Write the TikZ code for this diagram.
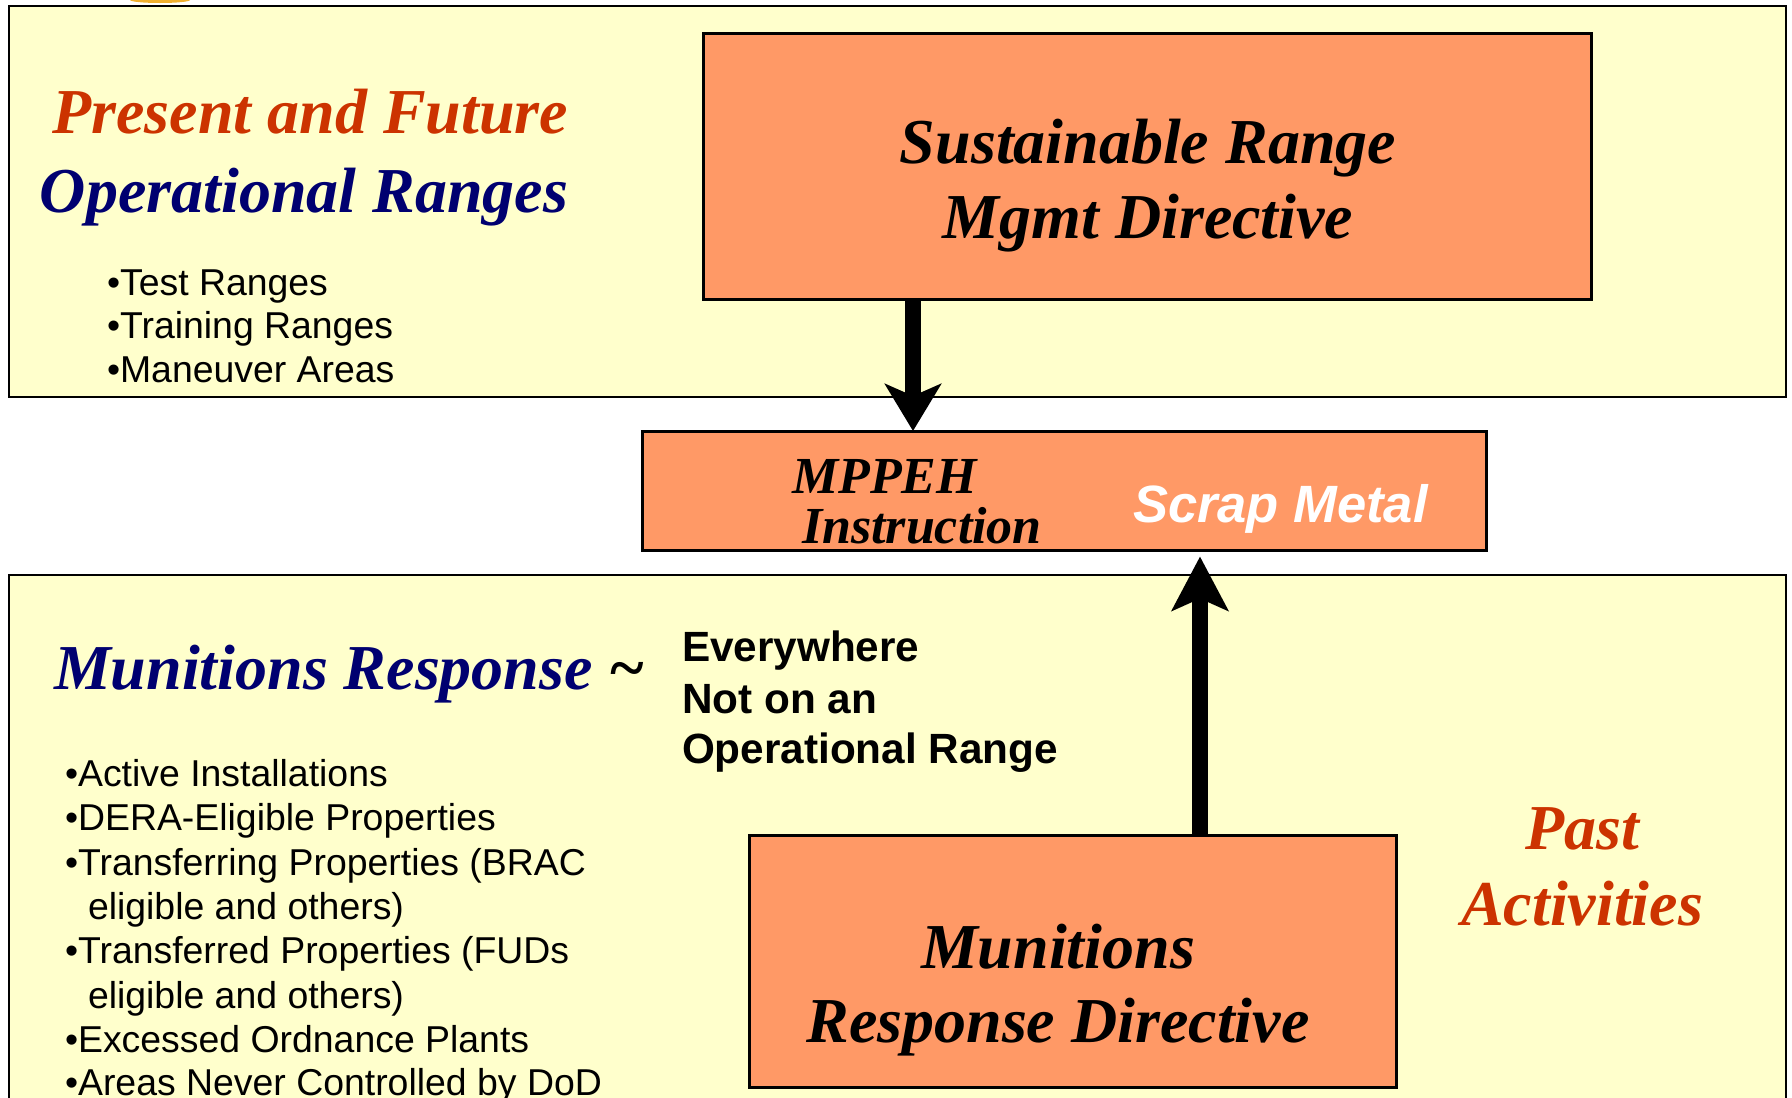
\documentclass[tikz,border=0pt]{standalone}
\usepackage{fontspec}
\setmainfont{Liberation Serif}
\newfontfamily\arial{Liberation Sans}
\usetikzlibrary{arrows.meta}
\definecolor{panelfill}{HTML}{FFFFCC}
\definecolor{boxfill}{HTML}{FF9966}
\definecolor{titlered}{HTML}{CC3300}
\definecolor{titlenavy}{HTML}{000070}
\definecolor{logogold}{HTML}{F0B030}
\tikzset{
  panel/.style={draw=black, fill=panelfill, line width=2.5pt},
  orangebox/.style={draw=black, fill=boxfill, line width=2.5pt, inner sep=0pt, anchor=north west},
  txt/.style={inner sep=0pt, outer sep=0pt},
  bigtitle/.style={txt, font=\fontsize{64}{70}\selectfont\bfseries\itshape},
  midtitle/.style={txt, font=\fontsize{52}{58}\selectfont\bfseries\itshape},
  bullet/.style={txt, anchor=base west, font=\arial\fontsize{37.4}{44}\selectfont},
  boldsans/.style={txt, anchor=base west, font=\arial\fontsize{42.3}{51}\selectfont\bfseries},
  fatarrow/.style={line width=16pt, -{Stealth[length=#1, width=56pt, inset=12pt]}},
}
\begin{document}
\begin{tikzpicture}[x=1pt, y=-1pt]
\useasboundingbox (0,0) rectangle (1792,1098);
% logo fragment at top edge
\fill[logogold] (160,0) ellipse (30 and 3);
% panels
\draw[panel] (9,6) rectangle (1786,397);
\draw[panel] (9,575) rectangle (1786,1110);

% orange boxes
\node[orangebox, minimum width=888pt, minimum height=266pt] (sust) at (702,32) {};
\node[orangebox, minimum width=844pt, minimum height=119pt] (mppeh) at (641,430) {};
\node[orangebox, minimum width=647pt, minimum height=252pt] (mrd) at (748,834) {};

% arrows
\coordinate (xa) at (913,0);
\coordinate (xb) at (1200,0);
\draw[fatarrow=47pt] (sust.south -| xa) -- ([yshift=-1pt]mppeh.north -| xa);
\draw[fatarrow=54pt] (mrd.north -| xb) -- ([yshift=-5pt]mppeh.south -| xb);

% top panel texts
\node[bigtitle, anchor=base east, text=titlered] (pf) at (568,133) {Present and Future};
\node[bigtitle, anchor=base east, text=titlenavy] (opr) at (568,212) {Operational Ranges};
\node[bullet] (t1) at (107,295) {•Test Ranges};
\node[bullet] (t2) at (107,338) {•Training Ranges};
\node[bullet] (t3) at (107,382) {•Maneuver Areas};

% sustainable box text
\node[bigtitle, anchor=base] (s1) at (1148,163) {Sustainable Range};
\node[bigtitle, anchor=base] (s2) at (1148,238) {Mgmt Directive};

% MPPEH box text
\node[midtitle, anchor=base west] (m1) at (792,493) {MPPEH};
\node[midtitle, anchor=base west] (m2) at (802,543) {Instruction};
\node[txt, anchor=base west, text=white, font=\arial\fontsize{52.5}{58}\selectfont\bfseries\itshape] (scrap) at (1133,522) {Scrap Metal};

% bottom panel texts
\node[bigtitle, anchor=base west] (mr) at (54,689) {\color{titlenavy}Munitions Response \color{black}\textasciitilde};
\node[boldsans] (e1) at (682,661) {Everywhere};
\node[boldsans] (e2) at (682,713) {Not on an};
\node[boldsans] (e3) at (682,763) {Operational Range};

\node[bullet] (b1) at (65,786) {•Active Installations};
\node[bullet] (b2) at (65,830) {•DERA-Eligible Properties};
\node[bullet] (b3) at (65,875) {•Transferring Properties (BRAC};
\node[bullet] (b4) at (88,919) {eligible and others)};
\node[bullet] (b5) at (65,963) {•Transferred Properties (FUDs};
\node[bullet] (b6) at (88,1008) {eligible and others)};
\node[bullet] (b7) at (65,1052) {•Excessed Ordnance Plants};
\node[bullet] (b8) at (65,1095) {•Areas Never Controlled by DoD};

\node[bigtitle, anchor=base, text=titlered] (pa1) at (1582,849) {Past};
\node[bigtitle, anchor=base, text=titlered] (pa2) at (1582,925) {Activities};

\node[bigtitle, anchor=base] (r1) at (1058,968) {Munitions};
\node[bigtitle, anchor=base] (r2) at (1058,1042) {Response Directive};
\end{tikzpicture}
\end{document}
